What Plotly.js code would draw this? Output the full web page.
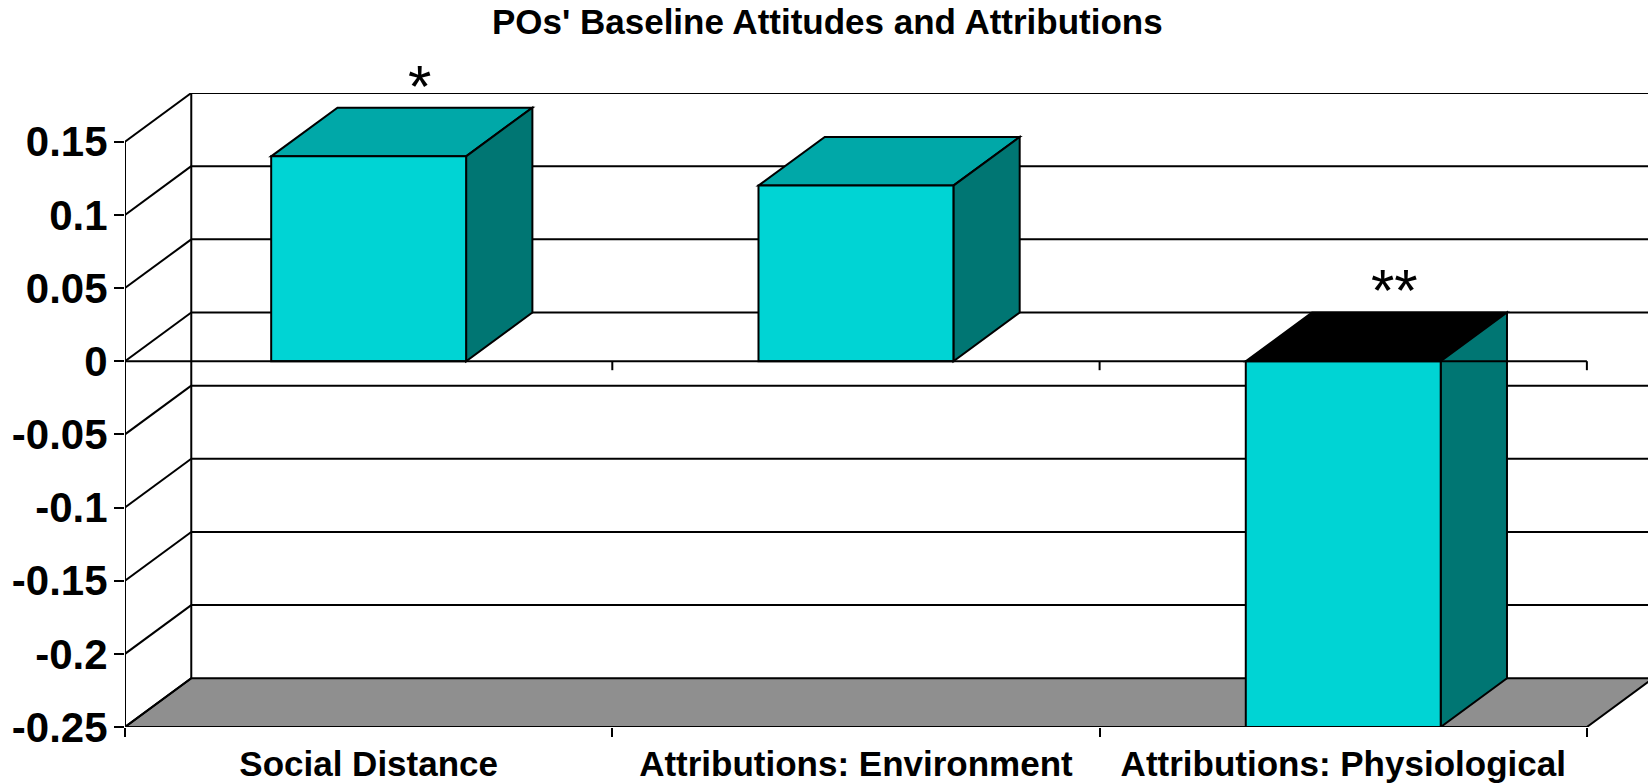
<!DOCTYPE html>
<html><head><meta charset="utf-8">
<script src="https://cdn.plot.ly/plotly-3.0.1.min.js"></script>
<style>html,body{margin:0;padding:0;background:#fff;} #chart{width:1648px;height:783px;}</style>
</head><body><div id="chart"></div>
<script>
// ---- data ----
const categories = ["Social Distance", "Attributions: Environment", "Attributions: Physiological"];
const values = [0.14, 0.12, -0.25];
const sigLabels = ["*", "", "**"];
const yTickVals = [-0.25, -0.2, -0.15, -0.1, -0.05, 0, 0.05, 0.1, 0.15];
const yTickText = ["-0.25", "-0.2", "-0.15", "-0.1", "-0.05", "0", "0.05", "0.1", "0.15"];
const titleText = "POs' Baseline Attitudes and Attributions";

// ---- style / 3D projection parameters ----
const yMin = -0.25, yMax = 0.15;
const DX = 0.1360;   // depth offset in category units
const DY = 0.0333;   // depth offset in value units
const BAR_W = 0.40;
const FRONT = '#00d4d4', TOP = '#00a8a8', SIDE = '#007673', FLOOR = '#8f8f8f', INK = '#000000';
const LW = 2;
const FONT = 'Liberation Sans, Arial, sans-serif';

const n = categories.length;
const xL = -0.5, xR = n - 0.5;
const shapes = [];
const line = (x0, y0, x1, y1, layer) => ({type: 'line', xref: 'x', yref: 'y', x0, y0, x1, y1, layer: layer || 'below', line: {color: INK, width: LW}});
const poly = (pts, fill, layer) => ({type: 'path', xref: 'x', yref: 'y', layer: layer || 'below',
  path: 'M ' + pts.map(p => p[0].toFixed(5) + ',' + p[1].toFixed(5)).join(' L ') + ' Z',
  fillcolor: fill, line: {color: INK, width: LW}});

// floor
shapes.push(poly([[xL, yMin], [xR, yMin], [xR + DX, yMin + DY], [xL + DX, yMin + DY]], FLOOR));
// back wall gridlines
yTickVals.forEach(v => { if (v > yMin) shapes.push(line(xL + DX, v + DY, xR + DX + 0.2, v + DY)); });
// back wall left edge
shapes.push(line(xL + DX, yMin + DY, xL + DX, yMax + DY));
// side wall diagonals
yTickVals.forEach(v => shapes.push(line(xL, v, xL + DX, v + DY)));
// bar top and side faces
values.forEach((v, i) => {
  const top = Math.max(v, 0), bot = Math.max(Math.min(v, 0), yMin);
  const xl = i - BAR_W / 2, xr = i + BAR_W / 2;
  shapes.push(poly([[xl, top], [xr, top], [xr + DX, top + DY], [xl + DX, top + DY]], v >= 0 ? TOP : INK));
  shapes.push(poly([[xr, bot], [xr, top], [xr + DX, top + DY], [xr + DX, bot + DY]], SIDE));
});
// front value axis line
shapes.push(line(xL, yMin, xL, yMax, 'above'));
// front category axis at zero, with boundary ticks
shapes.push(line(xL, 0, xR, 0, 'above'));
for (let i = 0; i < n; i++) {
  shapes.push({type: 'line', xref: 'x', yref: 'y', ysizemode: 'pixel', yanchor: 0, x0: i + 0.5, x1: i + 0.5, y0: 0, y1: -9,
    layer: 'above', line: {color: INK, width: LW}});
}

// significance annotations
const annotations = [];
values.forEach((v, i) => {
  if (!sigLabels[i]) return;
  annotations.push({xref: 'x', yref: 'y', x: i + DX * 0.77, y: Math.max(v, 0) + DY, text: sigLabels[i],
    showarrow: false, yanchor: 'bottom', yshift: -14, font: {family: FONT, size: 60, color: INK}});
});

const trace = {type: 'bar', x: categories, y: values, width: BAR_W, hoverinfo: 'none',
  marker: {color: FRONT, line: {color: INK, width: LW}}};

const layout = {
  width: 1648, height: 783,
  margin: {l: 125, r: 0, t: 93, b: 56},
  paper_bgcolor: '#ffffff', plot_bgcolor: 'rgba(0,0,0,0)',
  showlegend: false,
  title: {text: titleText, font: {family: FONT, size: 35, color: INK, weight: 'bold'},
    x: 0.502, xref: 'container', xanchor: 'center', y: 1 - 22 / 783, yref: 'container', yanchor: 'middle'},
  xaxis: {type: 'category', range: [-0.5, 2.6254], tickson: 'boundaries', ticks: 'outside', ticklen: 9, tickwidth: LW,
    tickcolor: INK, showgrid: false, zeroline: false, showline: false, fixedrange: true, ticklabelstandoff: 13,
    tickfont: {family: FONT, size: 35, color: INK, weight: 'bold'}},
  yaxis: {range: [yMin, 0.1833], tickmode: 'array', tickvals: yTickVals, ticktext: yTickText, ticks: 'outside', ticklen: 10,
    tickwidth: LW, tickcolor: INK, showgrid: false, zeroline: false, showline: false, fixedrange: true, ticklabelstandoff: -2,
    tickfont: {family: FONT, size: 42, color: INK, weight: 'bold'}},
  shapes, annotations
};
Plotly.newPlot('chart', [trace], layout, {displayModeBar: false, staticPlot: true});
</script></body></html>
